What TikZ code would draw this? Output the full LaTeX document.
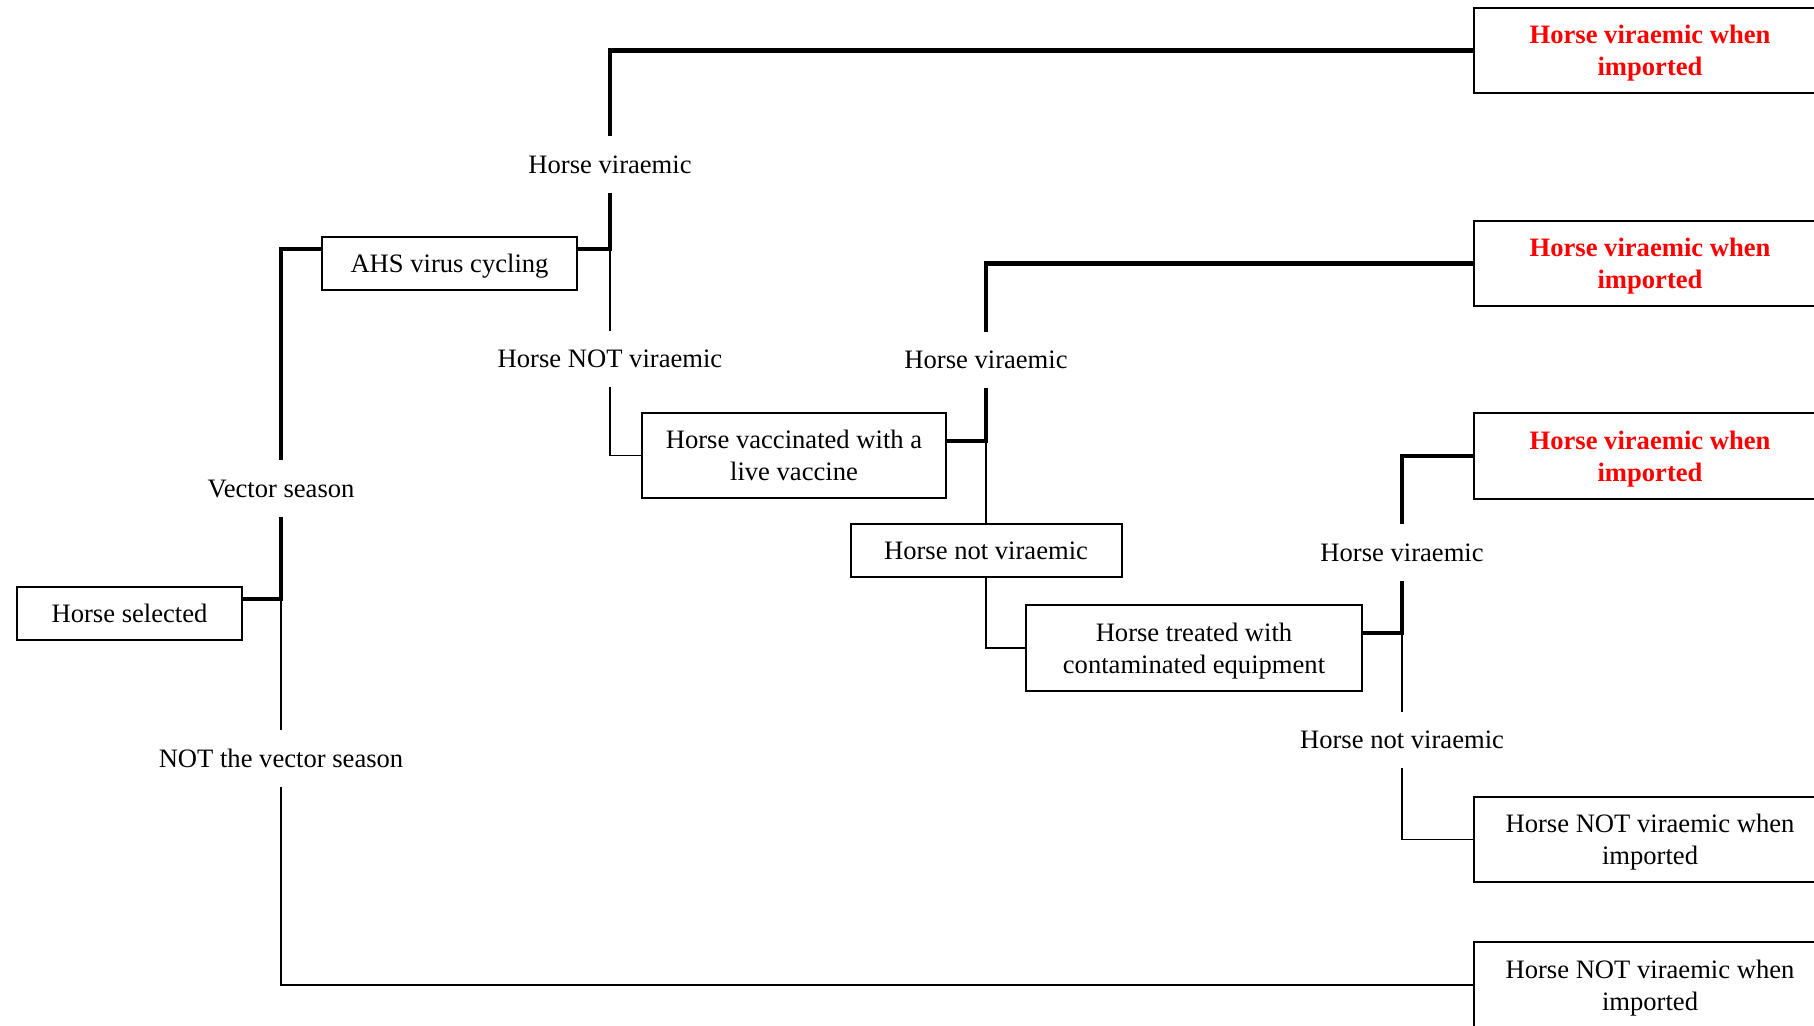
\documentclass[tikz,border=0pt]{standalone}
\usepackage{fontspec}
\setmainfont{Liberation Serif}
\begin{document}
\begin{tikzpicture}[x=0.5pt, y=-0.5pt,
  every node/.style={font=\fontsize{13.3}{16.2}\selectfont, text depth=0pt},
  box/.style={draw=black, line width=1pt, inner sep=0pt, align=center},
  branch/.style={inner sep=0pt, minimum height=28pt},
  hit/.style={text=red, font=\fontsize{13.3}{16.2}\selectfont\bfseries},
  yesline/.style={line width=2.25pt},
  noline/.style={line width=0.75pt}]
\useasboundingbox (0,0) rectangle (1814,1025);
\node[box, minimum width=112.5pt, minimum height=26.5pt] (sel) at (129.5,613.5) {Horse selected};
\node[branch] (vec) at (281,488.5) {Vector season};
\node[branch] (notvec) at (281,758.5) {NOT the vector season};
\node[box, minimum width=127.5pt, minimum height=26.5pt] (ahs) at (449.5,263.5) {AHS virus cycling};
\node[branch] (hv1) at (610,164.5) {Horse viraemic};
\node[branch] (hnv1) at (610,359) {Horse NOT viraemic};
\node[box, minimum width=152pt, minimum height=42.5pt] (vac) at (794,455.5) {Horse vaccinated with a\\live vaccine};
\node[branch] (hv2) at (986,360) {Horse viraemic};
\node[box, minimum width=135.5pt, minimum height=26.5pt] (hnv2) at (986,550.5) {Horse not viraemic};
\node[box, minimum width=168pt, minimum height=43pt] (treat) at (1194,648) {Horse treated with\\contaminated equipment};
\node[branch] (hv3) at (1402,552.5) {Horse viraemic};
\node[branch] (hnv3) at (1402,740) {Horse not viraemic};
\node[box, hit, minimum width=176pt, minimum height=42.5pt] (out1) at (1650,50.5) {Horse viraemic when\\imported};
\node[box, hit, minimum width=176pt, minimum height=42.5pt] (out2) at (1650,263.5) {Horse viraemic when\\imported};
\node[box, hit, minimum width=176pt, minimum height=43pt] (out3) at (1650,456) {Horse viraemic when\\imported};
\node[box, minimum width=176pt, minimum height=42.5pt] (out4) at (1650,839.5) {Horse NOT viraemic when\\imported};
\node[box, minimum width=176pt, minimum height=43pt] (out5) at (1650,985) {Horse NOT viraemic when\\imported};
\coordinate (sel-out) at ([yshift=7.25pt]sel.east);
\coordinate (ahs-in) at ([yshift=7.25pt]ahs.west);
\coordinate (ahs-out) at ([yshift=7.25pt]ahs.east);
\coordinate (vac-out) at ([yshift=7.25pt]vac.east);
\coordinate (treat-out) at ([yshift=7.5pt]treat.east);
\draw[yesline] (sel-out) -| (vec.south);
\draw[noline] (sel-out -| vec.south) -- (notvec.north);
\draw[yesline] (vec.north) |- (ahs-in);
\draw[noline] (notvec.south) |- (out5.west);
\draw[yesline] (ahs-out) -| (hv1.south);
\draw[yesline] (hv1.north) |- (out1.west);
\draw[noline] (ahs-out -| hv1.south) -- (hnv1.north);
\draw[noline] (hnv1.south) |- (vac.west);
\draw[yesline] (vac-out) -| (hv2.south);
\draw[yesline] (hv2.north) |- (out2.west);
\draw[noline] (vac-out -| hv2.south) -- (hnv2.north);
\draw[noline] (hnv2.south) |- (treat.west);
\draw[yesline] (treat-out) -| (hv3.south);
\draw[yesline] (hv3.north) |- (out3.west);
\draw[noline] (treat-out -| hv3.south) -- (hnv3.north);
\draw[noline] (hnv3.south) |- (out4.west);
\end{tikzpicture}
\end{document}
